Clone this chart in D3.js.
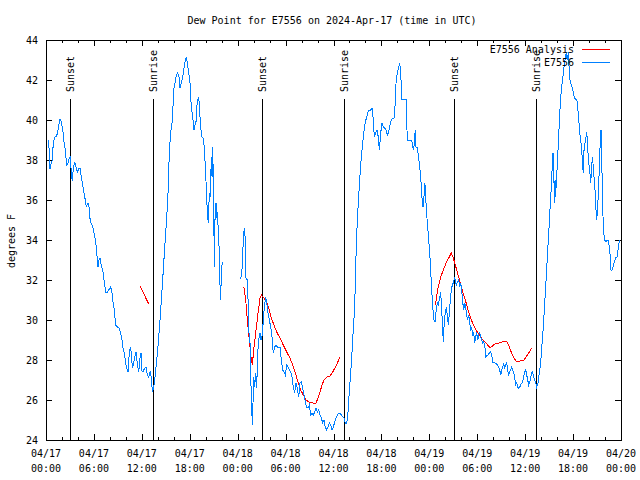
<!DOCTYPE html>
<html><head><meta charset="utf-8">
<script src="https://cdn.jsdelivr.net/npm/d3@7"></script>
<style>
body{margin:0;background:#fff}
text{font-family:"DejaVu Sans Mono","Liberation Mono",monospace;font-size:10px;fill:#000}
</style>
</head><body><svg id="c" width="640" height="480"></svg>
<script>
const titleText = "Dew Point for E7556 on 2024-Apr-17 (time in UTC)";
const yAxisLabel = "degrees F";
const legendLabels = ["E7556 Analysis", "E7556"];
const startTime = Date.UTC(2024, 3, 17, 0, 0);
const endTime = Date.UTC(2024, 3, 20, 0, 0);
const yTickValues = [24, 26, 28, 30, 32, 34, 36, 38, 40, 42, 44];
const sunHours = [3.04, 13.44, 27.09, 37.36, 51.13, 61.40];
const sunLabels = ["Sunset", "Sunrise", "Sunset", "Sunrise", "Sunset", "Sunrise"];

// observations (hours since 04/17 00:00 UTC), null = gap
const obsHours = [
0.25,0.38,0.50,0.66,0.79,0.91,1.09,1.34,1.50,1.75,1.92,2.13,2.25,2.42,2.59,2.75,2.92,3.04,3.17,3.29,
3.42,3.59,3.76,3.92,4.09,4.26,4.42,4.60,4.76,4.92,5.05,5.22,5.35,5.47,5.63,5.85,6.01,6.22,6.35,6.51,
6.64,6.76,6.92,7.14,7.30,7.48,7.68,7.93,8.10,8.26,8.39,8.55,8.73,8.93,9.14,9.30,9.48,9.64,9.80,9.98,
10.10,10.27,10.43,10.56,10.68,10.81,10.93,11.11,11.27,11.43,11.61,11.77,11.90,12.02,12.18,12.36,12.52,12.68,12.86,12.98,
13.11,13.24,13.36,13.49,13.65,13.86,14.02,14.15,14.28,14.40,14.53,14.65,14.78,14.90,15.03,15.15,15.28,15.36,15.49,15.61,
15.74,15.87,15.99,16.15,16.32,16.49,16.65,16.78,16.94,17.12,17.28,17.44,17.57,17.69,17.87,18.03,18.16,18.28,18.41,18.53,
18.66,18.78,18.91,19.07,19.20,19.32,19.50,19.66,19.82,19.95,20.07,20.20,20.32,20.45,20.57,20.70,20.79,20.87,20.95,21.04,
21.07,21.16,21.29,21.38,21.45,21.58,21.70,21.79,21.88,21.95,22.08,
23.20,
24.29,24.51,24.71,24.83,24.96,25.04,25.21,25.33,25.42,25.54,25.63,25.76,25.83,25.92,26.01,26.13,26.26,26.38,26.51,26.67,
26.80,26.92,27.09,27.21,27.34,27.51,27.64,27.80,27.96,28.14,28.30,28.46,28.64,28.80,28.96,29.14,29.30,29.46,29.64,29.80,
29.97,30.14,30.30,30.47,30.64,30.80,30.97,31.14,31.30,31.47,31.64,31.81,31.97,32.14,32.31,32.47,32.64,32.81,32.97,33.15,
33.31,33.47,33.65,33.81,33.97,34.15,34.31,34.47,34.65,34.81,34.97,35.15,35.31,35.48,35.65,35.81,35.98,36.15,36.31,36.48,
36.65,36.81,36.98,37.15,37.32,37.48,37.65,37.78,37.90,38.03,38.15,38.28,38.40,38.53,38.65,38.78,38.86,38.98,39.11,39.23,
39.36,39.48,39.61,39.73,39.86,39.98,40.16,40.32,40.48,40.66,40.82,40.99,41.11,41.28,41.45,41.61,41.74,41.91,42.07,42.24,
42.41,42.57,42.74,42.91,43.08,43.24,43.41,43.58,43.70,43.83,43.99,44.17,44.29,44.42,44.54,45.08,45.17,45.24,45.79,45.92,
46.04,46.17,46.24,46.33,46.49,46.62,46.74,46.87,47.00,47.12,47.21,47.33,47.42,47.50,47.62,47.80,47.92,48.05,48.25,48.42,
48.59,48.71,48.84,49.00,49.12,49.25,49.42,49.55,49.67,49.75,49.88,50.00,50.13,50.25,50.38,50.50,50.63,50.75,50.88,51.00,
51.13,51.25,51.38,51.50,51.68,51.80,51.93,52.05,52.18,52.30,52.43,52.55,52.68,52.80,52.93,53.05,53.18,53.31,53.43,53.56,
53.68,53.81,53.93,54.06,54.18,54.31,54.43,54.56,54.69,54.81,54.94,55.06,55.19,55.35,55.51,55.68,55.81,55.93,56.06,56.19,
56.35,56.51,56.69,56.81,56.94,57.06,57.19,57.31,57.44,57.56,57.69,57.81,57.94,58.06,58.19,58.31,58.44,58.56,58.69,58.81,
58.94,59.06,59.19,59.32,59.44,59.57,59.69,59.82,59.94,60.07,60.19,60.32,60.44,60.57,60.69,60.82,60.94,61.07,61.19,61.32,
61.44,61.61,61.77,61.95,62.07,62.20,62.32,62.45,62.57,62.70,62.82,62.95,63.07,63.20,63.32,63.40,63.49,63.58,63.65,63.74,
63.83,63.90,64.03,64.15,64.28,64.40,64.53,64.65,64.78,64.90,65.03,65.15,65.28,65.41,65.53,65.66,65.78,65.91,66.03,66.16,
66.28,66.46,66.58,66.71,66.83,66.96,67.08,67.21,67.28,67.37,67.49,67.62,67.70,67.78,67.87,67.95,68.08,68.21,68.33,68.41,
68.49,68.62,68.75,68.87,68.96,69.03,69.12,69.20,69.33,69.41,69.50,69.58,69.66,69.75,69.83,69.96,70.12,70.29,70.41,70.54,
70.66,70.75,70.87,71.00,71.12,71.25,71.37,71.50,71.62,71.75,71.84
];
const obsValues = [
39.0,38.6,37.55,37.85,38.0,38.85,39.15,39.2,39.5,40.05,39.9,39.4,38.9,38.5,37.75,37.85,38.1,38.15,37.4,36.95,
37.6,37.9,37.65,37.4,37.55,37.6,37.15,36.75,36.35,36.0,35.65,35.85,35.85,35.15,34.85,34.65,34.35,33.9,33.4,32.65,
33.0,33.1,32.75,32.4,31.9,31.4,31.4,31.55,31.65,31.35,30.9,30.5,29.75,29.65,29.6,29.4,29.15,28.6,28.35,27.85,
27.6,27.4,28.35,28.65,28.4,27.6,27.75,28.15,28.4,27.85,27.4,28.1,28.35,27.45,27.45,27.6,27.65,27.25,27.15,27.35,
27.4,26.75,26.4,26.65,27.15,28.0,28.65,29.35,30.0,30.75,31.5,32.25,33.1,33.85,34.6,35.4,36.35,37.5,38.65,39.4,
39.65,40.35,41.5,41.85,42.25,42.35,42.15,41.6,41.85,42.15,42.6,43.0,43.15,42.85,42.35,41.85,40.9,40.4,40.0,39.5,
39.75,39.9,40.75,41.15,40.85,39.9,39.15,39.1,38.65,37.65,36.65,35.35,34.85,36.35,36.15,38.15,37.15,38.65,37.15,34.15,
32.65,35.0,35.85,35.1,35.4,34.5,33.35,31.75,31.0,32.4,32.9,
null,
32.05,32.25,34.0,34.6,34.0,32.1,32.0,30.65,29.35,29.0,27.15,25.65,24.75,25.85,27.15,26.65,27.35,26.6,28.35,29.1,
29.35,29.0,29.25,30.0,30.65,31.15,30.85,30.35,30.0,29.65,29.15,28.35,28.65,28.75,28.65,28.6,28.65,28.0,27.5,27.4,
27.25,27.75,27.65,27.5,27.4,27.15,26.65,26.35,26.85,26.6,26.15,26.85,26.9,26.6,26.25,25.9,25.65,25.6,25.75,25.25,
25.35,25.25,25.4,25.6,25.4,25.5,25.25,25.1,24.85,25.0,24.65,24.5,24.65,24.85,24.75,24.5,24.65,24.9,25.1,25.25,
25.35,25.35,25.25,25.15,25.1,24.85,24.85,25.15,26.0,26.65,27.35,28.15,29.0,29.85,30.65,32.65,33.85,34.9,35.9,36.65,
37.5,38.15,38.65,39.15,39.6,39.9,40.15,40.4,40.5,40.5,40.6,40.0,39.15,39.35,39.5,39.15,38.5,39.35,39.85,39.65,
39.6,39.5,39.25,39.4,39.75,40.0,40.1,40.1,40.65,41.85,42.35,42.65,42.85,42.35,41.05,41.05,40.0,39.0,39.0,38.65,
38.5,39.15,39.5,38.65,38.65,38.25,37.85,37.35,36.65,35.85,35.65,36.15,36.85,36.6,35.5,34.65,34.0,33.35,31.85,30.65,
30.0,29.9,30.4,30.85,30.75,31.0,31.4,30.5,29.6,28.9,30.0,30.35,30.65,30.25,29.75,30.35,31.0,31.5,31.75,31.85,
32.1,32.0,31.75,31.9,32.0,31.65,31.85,31.5,30.9,30.5,30.85,30.65,30.25,30.0,30.25,29.9,29.5,29.6,29.25,29.35,
28.85,29.15,29.4,29.0,29.25,29.35,29.15,29.0,28.85,28.9,28.75,28.1,28.25,28.25,28.35,28.4,28.25,27.9,27.9,27.85,
27.85,27.75,27.65,27.5,27.25,27.5,27.65,27.8,27.6,27.75,27.85,27.5,27.25,27.4,27.5,27.65,27.5,27.4,27.1,26.75,
26.85,26.65,26.6,26.65,26.75,26.85,26.9,27.15,27.4,27.5,27.25,27.0,26.75,26.9,27.1,27.35,27.4,27.15,27.0,26.85,
26.65,26.85,27.35,27.9,28.6,29.25,30.0,30.85,31.65,32.6,33.5,34.35,35.25,36.15,37.0,37.85,38.35,37.65,35.85,37.0,
36.15,37.15,37.65,38.85,39.9,40.85,41.5,41.9,42.35,42.75,43.1,43.35,43.0,43.4,42.35,41.85,41.75,41.6,41.35,41.1,
41.05,41.05,40.65,40.0,39.35,39.0,38.5,37.65,37.35,38.5,38.85,39.15,39.4,39.0,38.35,37.85,37.5,36.85,37.65,38.15,
37.85,37.15,36.5,35.5,35.0,35.4,36.0,36.65,38.15,39.0,39.5,38.5,36.35,35.15,34.35,34.0,33.9,34.0,34.0,33.65,
33.15,32.5,32.5,32.65,32.85,33.0,33.15,33.15,33.5,33.85,34.0
];

// analysis (hours since 04/17 00:00 UTC), null = gap
const anaHours = [
11.77,12.86,
18.0,
24.79,25.01,25.21,25.46,25.67,25.83,26.05,26.30,26.55,26.80,26.96,27.30,27.64,27.89,28.21,28.55,28.89,29.30,29.71,30.14,
30.55,30.89,31.22,31.55,31.89,32.22,32.56,32.89,33.40,33.81,34.06,34.31,34.56,34.81,35.15,35.56,35.90,36.23,36.48,36.81,
42.0,
48.75,49.09,49.42,49.75,50.09,50.43,50.75,51.00,51.25,51.50,51.84,52.18,52.51,52.84,53.18,53.51,53.85,54.18,54.51,54.85,
55.19,55.51,55.76,56.19,56.69,57.10,57.69,58.02,58.35,58.60,58.85,59.35,59.85,60.19,60.52,60.82
];
const anaValues = [
31.7,30.8,
null,
31.63,31.0,30.0,29.0,28.15,27.75,28.65,29.5,30.35,31.1,31.25,31.1,30.9,30.6,30.1,29.75,29.4,29.1,28.75,28.4,
28.1,27.75,27.35,26.9,26.5,26.25,26.0,25.9,25.85,25.85,26.1,26.4,26.75,27.0,27.15,27.2,27.4,27.65,27.85,28.15,
null,
30.75,31.6,32.15,32.5,32.85,33.1,33.35,33.1,32.75,32.4,31.9,31.4,31.0,30.5,30.1,29.75,29.5,29.3,29.1,28.95,
28.8,28.65,28.65,28.8,28.85,28.9,28.95,28.65,28.3,28.1,27.95,27.95,28.0,28.2,28.4,28.6
];

const svg = d3.select("#c");
const L = 46, R = 621, T = 40, B = 440;
const toDate = h => new Date(startTime + h * 3600000);

const x = d3.scaleUtc().domain([new Date(startTime), new Date(endTime)]).range([L, R]);
const y = d3.scaleLinear().domain([24, 44]).range([B, T]);

svg.append("rect").attr("width", 640).attr("height", 480).attr("fill", "#fff");

// title
svg.append("text").attr("x", 332).attr("y", 20).attr("text-anchor", "middle")
  .attr("dominant-baseline", "central").text(titleText);

// y label
svg.append("text").attr("transform", "translate(11,241) rotate(-90)")
  .attr("text-anchor", "middle").attr("dominant-baseline", "central").text(yAxisLabel);

const g = svg.append("g").attr("shape-rendering", "crispEdges");

// x ticks: major every 6h, minor every 2h
const majorTicks = d3.utcHour.every(6).range(new Date(startTime), new Date(endTime + 1));
const minorTicks = d3.utcHour.every(2).range(new Date(startTime), new Date(endTime + 1))
  .filter(d => d.getUTCHours() % 6 !== 0);

const px = v => Math.round(v) + 0.5;

majorTicks.forEach(d => {
  const xx = px(x(d));
  g.append("line").attr("x1", xx).attr("x2", xx).attr("y1", B).attr("y2", B - 6).attr("stroke", "#000");
  g.append("line").attr("x1", xx).attr("x2", xx).attr("y1", T).attr("y2", T + 6).attr("stroke", "#000");
});
minorTicks.forEach(d => {
  const xx = px(x(d));
  g.append("line").attr("x1", xx).attr("x2", xx).attr("y1", B).attr("y2", B - 3).attr("stroke", "#000");
  g.append("line").attr("x1", xx).attr("x2", xx).attr("y1", T).attr("y2", T + 3).attr("stroke", "#000");
});

const fmtDate = d3.utcFormat("%m/%d"), fmtTime = d3.utcFormat("%H:%M");
majorTicks.forEach(d => {
  const t = svg.append("text").attr("text-anchor", "middle").attr("x", x(d));
  t.append("tspan").attr("x", x(d)).attr("y", 457).text(fmtDate(d));
  t.append("tspan").attr("x", x(d)).attr("y", 472).text(fmtTime(d));
});

// y ticks
yTickValues.forEach(v => {
  const yy = px(y(v));
  g.append("line").attr("x1", L).attr("x2", L + 6).attr("y1", yy).attr("y2", yy).attr("stroke", "#000");
  g.append("line").attr("x1", R - 6).attr("x2", R).attr("y1", yy).attr("y2", yy).attr("stroke", "#000");
  svg.append("text").attr("x", 38).attr("y", y(v)).attr("text-anchor", "end")
    .attr("dominant-baseline", "central").text(v);
});

// sunrise / sunset
sunHours.forEach((h, i) => {
  const xx = px(x(toDate(h)));
  g.append("line").attr("x1", xx).attr("x2", xx).attr("y1", 99).attr("y2", B).attr("stroke", "#000");
  svg.append("text").attr("transform", `translate(${xx},92) rotate(-90)`)
    .attr("dominant-baseline", "central").text(sunLabels[i]);
});

// lines
const obs = obsHours.map((h, i) => ({t: toDate(h), v: obsValues[i]}));
const ana = anaHours.map((h, i) => ({t: toDate(h), v: anaValues[i]}));
const line = d3.line().defined(d => d.v !== null).x(d => x(d.t)).y(d => y(d.v));

svg.append("path").datum(ana).attr("d", line).attr("fill", "none")
  .attr("stroke", "#ff0000").attr("stroke-width", 1).attr("shape-rendering", "crispEdges");
svg.append("path").datum(obs).attr("d", line).attr("fill", "none")
  .attr("stroke", "#0080ff").attr("stroke-width", 1).attr("shape-rendering", "crispEdges");

// legend
const legColors = ["#ff0000", "#0080ff"];
legendLabels.forEach((lab, i) => {
  const ly = 49 + i * 13;
  svg.append("text").attr("x", 574).attr("y", ly).attr("text-anchor", "end")
    .attr("dominant-baseline", "central").text(lab);
  g.append("line").attr("x1", 582).attr("x2", 610).attr("y1", ly + 0.5).attr("y2", ly + 0.5)
    .attr("stroke", legColors[i]);
});

// border
g.append("rect").attr("x", L + 0.5).attr("y", T + 0.5).attr("width", R - L).attr("height", B - T)
  .attr("fill", "none").attr("stroke", "#000");
</script>
</body></html>
